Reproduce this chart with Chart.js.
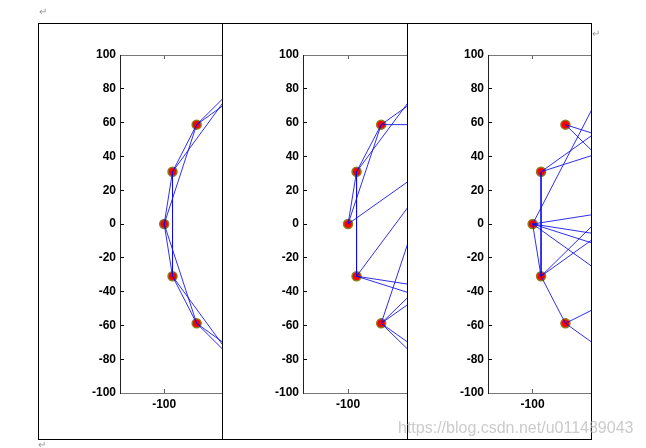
<!DOCTYPE html>
<html>
<head>
<meta charset="utf-8">
<script src="https://cdn.jsdelivr.net/npm/chart.js@4.4.0/dist/chart.umd.min.js"></script>
<style>
  body { margin: 0; width: 646px; height: 448px; background: #fff; position: relative; overflow: hidden; font-family: "Liberation Sans", Arial, sans-serif; }
  canvas { position: absolute; top: 24px; }
  .frame { position: absolute; left: 38px; top: 23px; width: 552px; height: 415px; border: 1px solid #000; }
  .divider { position: absolute; top: 23px; width: 1px; height: 416px; background: #000; }
  .mark { position: absolute; font-size: 10px; color: #999; line-height: 10px; }
  .wm { position: absolute; left: 398px; top: 419px; font-size: 16px; color: rgba(185, 185, 185, 0.75); white-space: nowrap; }
</style>
</head>
<body>
<canvas id="ring" width="183" height="414" style="left:39px"></canvas>
<canvas id="smallworld" width="184" height="414" style="left:223px"></canvas>
<canvas id="random" width="183" height="414" style="left:408px"></canvas>
<div class="frame"></div>
<div class="divider" style="left:222px"></div>
<div class="divider" style="left:407px"></div>
<div class="mark" style="left:39px;top:7px">↵</div>
<div class="mark" style="left:592px;top:29px">↵</div>
<div class="mark" style="left:38px;top:440px">↵</div>
<div class="wm">https://blog.csdn.net/u011489043</div>
<script>
// 20 nodes on a circle of radius 100, node i sits at 18*i degrees
const nodeX = [100, 95.1, 80.9, 58.8, 30.9, 0, -30.9, -58.8, -80.9, -95.1,
               -100, -95.1, -80.9, -58.8, -30.9, 0, 30.9, 58.8, 80.9, 95.1];
const nodeY = [0, 30.9, 58.8, 80.9, 95.1, 100, 95.1, 80.9, 58.8, 30.9,
               0, -30.9, -58.8, -80.9, -95.1, -100, -95.1, -80.9, -58.8, -30.9];

const yTicks = [-100, -80, -60, -40, -20, 0, 20, 40, 60, 80, 100];
const xTicks = [-100];

// edges (node index pairs) that touch the visible part of each plot
const ringEdges = [[6, 8], [7, 8], [7, 9], [8, 9], [8, 10], [9, 10], [9, 11],
                   [10, 11], [10, 12], [11, 12], [11, 13], [12, 13], [12, 14]];
const smallWorldEdges = [[8, 2], [8, 6], [9, 7], [8, 9], [8, 10], [9, 10], [9, 11],
                         [10, 4], [11, 5], [11, 18], [11, 17], [12, 6], [12, 3],
                         [12, 2], [12, 13], [12, 14]];
const randomEdges = [[8, 0], [8, 17], [9, 5], [9, 3], [9, 11], [10, 7], [10, 1],
                     [10, 19], [10, 18], [10, 16], [10, 11], [11, 12], [11, 4],
                     [11, 3], [12, 1], [12, 14]];

const tickFont = { family: "'Liberation Sans', Arial, sans-serif", size: 12, weight: 'bold' };

function drawGraph(canvasId, edges, axisWidth) {
  const datasets = edges.map(([a, b]) => ({
    data: [{ x: nodeX[a], y: nodeY[a] }, { x: nodeX[b], y: nodeY[b] }],
    showLine: true,
    borderColor: 'rgba(10, 10, 235, 0.85)',
    borderWidth: 1,
    pointRadius: 0,
  }));
  // nodes go last so the edges are drawn over them
  datasets.push({
    data: nodeX.map((x, i) => ({ x, y: nodeY[i] })),
    showLine: false,
    pointRadius: 4.5,
    pointBackgroundColor: '#f00',
    pointBorderColor: '#8b7d1a',
    pointBorderWidth: 1.5,
  });

  const xAxis = (position) => ({
    type: 'linear',
    position,
    min: -126,
    max: -66,
    afterBuildTicks: (s) => { s.ticks = xTicks.map((v) => ({ value: v })); },
    afterFit: (s) => { s.height = position === 'bottom' ? 45 : 0; },
    ticks: { display: position === 'bottom', font: tickFont, color: '#000', padding: 8,
             callback: (v) => String(v) },
    grid: { drawOnChartArea: false, tickLength: -4, color: '#666' },
    border: { color: '#777' },
  });

  new Chart(document.getElementById(canvasId), {
    type: 'scatter',
    data: { datasets },
    options: {
      responsive: false,
      animation: false,
      devicePixelRatio: 1,
      events: [],
      layout: { autoPadding: false, padding: { top: 31, right: 0, bottom: 0, left: 0 } },
      plugins: { legend: { display: false }, tooltip: { enabled: false } },
      scales: {
        x: xAxis('bottom'),
        x2: xAxis('top'),
        y: {
          type: 'linear',
          min: -100,
          max: 100,
          afterBuildTicks: (s) => { s.ticks = yTicks.map((v) => ({ value: v })); },
          afterFit: (s) => { s.width = axisWidth; },
          ticks: { font: tickFont, color: '#000', padding: 8, callback: (v) => String(v) },
          grid: { drawOnChartArea: false, tickLength: -4, color: '#000' },
          border: { color: '#222' },
        },
      },
    },
  });
}

drawGraph('ring', ringEdges, 81);
drawGraph('smallworld', smallWorldEdges, 80);
drawGraph('random', randomEdges, 80);
</script>
</body>
</html>
